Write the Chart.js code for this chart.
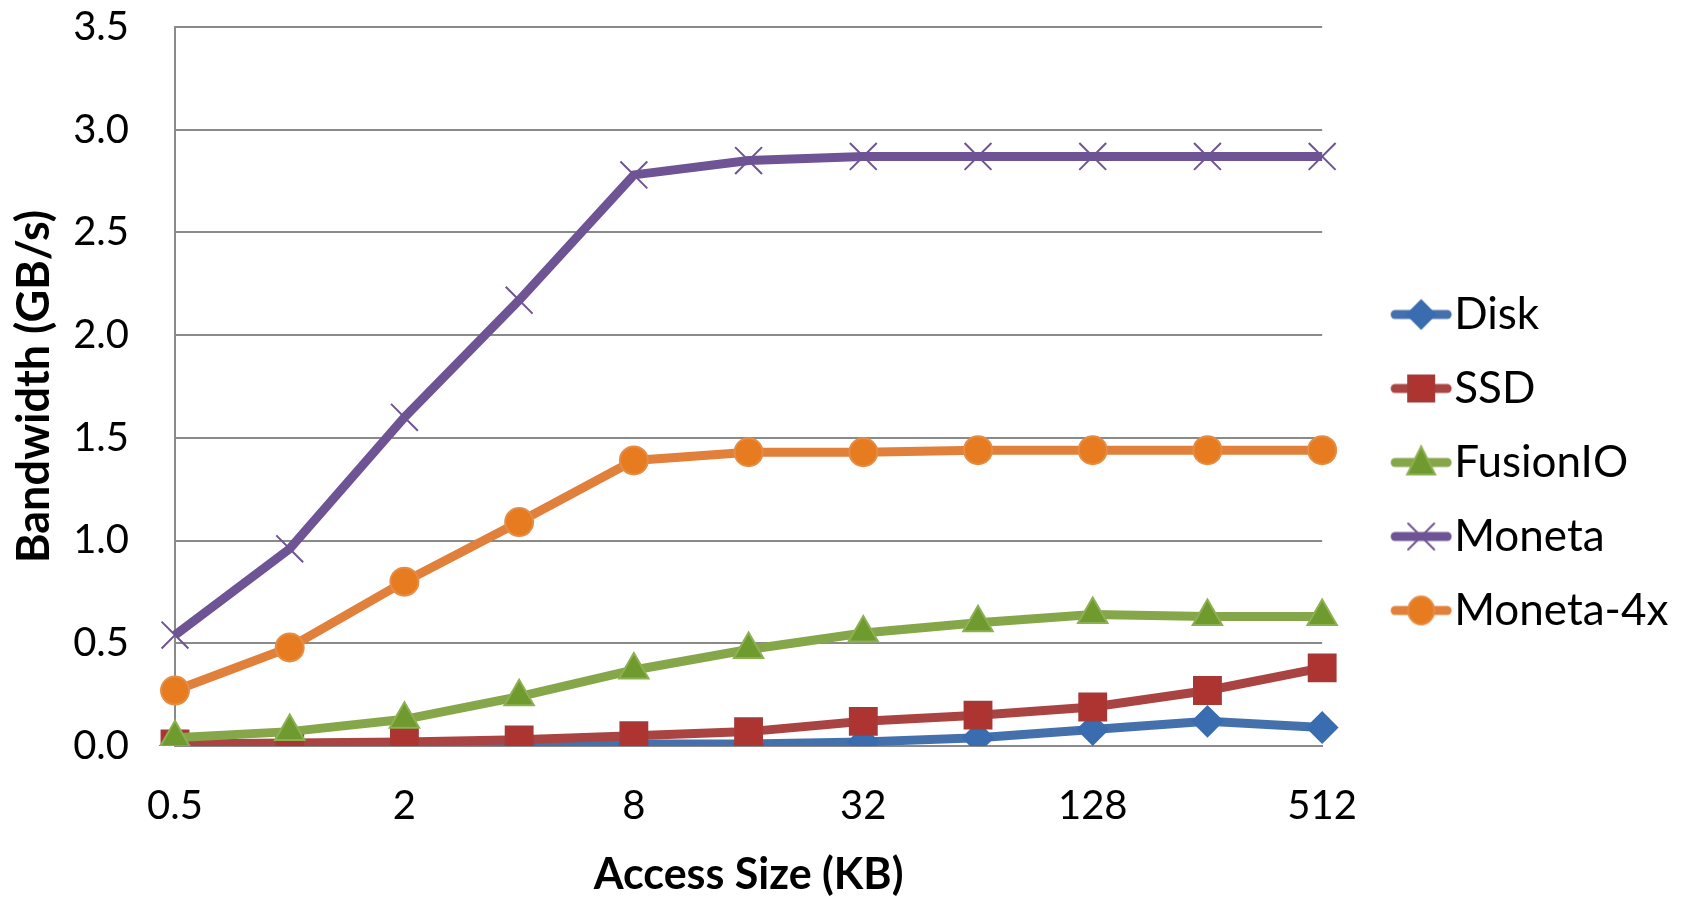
<!DOCTYPE html>
<html>
<head>
<meta charset="utf-8">
<script src="https://cdn.jsdelivr.net/npm/chart.js@4"></script>
<style>
  html, body { margin: 0; padding: 0; background: #fff; }
  #caja { width: 1690px; height: 898px; }
</style>
</head>
<body>
<div id="caja"><canvas id="grafica"></canvas></div>
<script>
// datos
const tamanos = ['0.5', '1', '2', '4', '8', '16', '32', '64', '128', '256', '512'];
const disk     = [0.00, 0.00, 0.00, 0.005, 0.01, 0.01, 0.02, 0.04, 0.08, 0.12, 0.09];
const ssd      = [0.01, 0.015, 0.02, 0.03, 0.05, 0.07, 0.12, 0.15, 0.19, 0.27, 0.38];
const fusionio = [0.04, 0.07, 0.13, 0.24, 0.37, 0.47, 0.55, 0.60, 0.64, 0.63, 0.63];
const moneta   = [0.54, 0.96, 1.60, 2.17, 2.78, 2.85, 2.87, 2.87, 2.87, 2.87, 2.87];
const moneta4x = [0.27, 0.48, 0.80, 1.09, 1.39, 1.43, 1.43, 1.44, 1.44, 1.44, 1.44];
const yTicks = [0, 0.5, 1.0, 1.5, 2.0, 2.5, 3.0, 3.5];

const fuente = "Lato, 'Open Sans', sans-serif";

// icono de la leyenda: linea + marcador
function icono(linea, relleno, borde, forma){
    let c = document.createElement('canvas');
    c.width = 64; c.height = 40;
    let ctx = c.getContext('2d');
    ctx.strokeStyle = linea; ctx.lineWidth = 9; ctx.lineCap = 'round';
    ctx.beginPath(); ctx.moveTo(6, 20); ctx.lineTo(58, 20); ctx.stroke();
    ctx.fillStyle = relleno; ctx.strokeStyle = borde; ctx.lineWidth = 2;
    ctx.beginPath();
    if (forma == 'rectRot'){
        ctx.moveTo(32, 6); ctx.lineTo(46, 20); ctx.lineTo(32, 34); ctx.lineTo(18, 20); ctx.closePath();
        ctx.fill(); ctx.stroke();
    } else if (forma == 'rect'){
        ctx.rect(19, 7, 26, 26); ctx.fill(); ctx.stroke();
    } else if (forma == 'triangle'){
        ctx.moveTo(32, 4); ctx.lineTo(46, 32); ctx.lineTo(18, 32); ctx.closePath();
        ctx.fill(); ctx.stroke();
    } else if (forma == 'crossRot'){
        ctx.moveTo(19, 7); ctx.lineTo(45, 33); ctx.moveTo(45, 7); ctx.lineTo(19, 33);
        ctx.stroke();
    } else {
        ctx.ellipse(32, 20, 13, 14, 0, 0, Math.PI * 2); ctx.fill(); ctx.stroke();
    }
    return c;
}

const series = [
    {label: 'Disk',      data: disk,     linea: '#4471AC', relleno: '#3A6CB0', borde: '#3A6CB0', forma: 'rectRot',  radio: 15, orden: 5},
    {label: 'SSD',       data: ssd,      linea: '#AA4442', relleno: '#AE3431', borde: '#A33A38', forma: 'rect',     radio: 19, orden: 4},
    {label: 'FusionIO',  data: fusionio, linea: '#86A64A', relleno: '#6E9A2E', borde: '#8CB152', forma: 'triangle', radio: 17, orden: 3},
    {label: 'Moneta',    data: moneta,   linea: '#6E5494', relleno: '#6E5494', borde: '#6E5494', forma: 'crossRot', radio: 19, orden: 2},
    {label: 'Moneta-4x', data: moneta4x, linea: '#E0803A', relleno: '#E67B20', borde: '#E58C45', forma: 'circle',   radio: 14, orden: 1}
];

const iconos = series.map(s => icono(s.linea, s.relleno, s.borde, s.forma));

// la leyenda recorta el texto largo: se le da algo mas de ancho
const anchoLeyenda = {
    id: 'anchoLeyenda',
    beforeLayout(chart){
        let ley = chart.legend;
        if (!ley || ley._parcheado) return;
        let fitOrig = ley.fit;
        ley.fit = function(){ fitOrig.call(this); this.width += 24; };
        ley._parcheado = true;
    }
};

new Chart(document.getElementById('grafica'), {
    type: 'line',
    data: {
        labels: tamanos,
        datasets: series.map(s => ({
            label: s.label,
            data: s.data,
            borderColor: s.linea,
            backgroundColor: s.relleno,
            borderWidth: 9,
            pointStyle: s.forma,
            pointRadius: s.radio,
            pointBackgroundColor: s.relleno,
            pointBorderColor: s.borde,
            pointBorderWidth: 2,
            tension: 0,
            order: s.orden
        }))
    },
    plugins: [anchoLeyenda],
    options: {
        responsive: true,
        maintainAspectRatio: false,
        animation: false,
        layout: {padding: {top: 27, left: 0, right: 5, bottom: 0}},
        plugins: {
            tooltip: {enabled: false},
            legend: {
                position: 'right',
                labels: {
                    usePointStyle: true,
                    pointStyleWidth: 22,
                    padding: 30,
                    color: '#000',
                    font: {family: fuente, size: 44},
                    sort: (a, b) => a.datasetIndex - b.datasetIndex,
                    generateLabels: chart => {
                        let base = Chart.defaults.plugins.legend.labels.generateLabels(chart);
                        base.forEach(it => { it.pointStyle = iconos[it.datasetIndex]; });
                        return base;
                    }
                }
            }
        },
        scales: {
            x: {
                offset: false,
                grid: {display: false, drawTicks: false},
                border: {display: true, color: '#8a8a8a', width: 2},
                ticks: {
                    autoSkip: false,
                    maxRotation: 0,
                    padding: 36,
                    color: '#000',
                    font: {family: fuente, size: 40},
                    callback: (v, i) => i % 2 == 0 ? tamanos[i] : ''
                },
                title: {display: true, text: 'Access Size (KB)', color: '#000',
                        font: {family: fuente, size: 43, weight: 'bold'}, padding: {top: 4, bottom: -3}},
                afterFit: s => { s.height = 152; }
            },
            y: {
                min: 0, max: 3.5,
                afterBuildTicks: s => { s.ticks = yTicks.map(v => ({value: v})); },
                grid: {color: '#8a8a8a', lineWidth: 2, drawTicks: true, tickLength: 43, tickColor: 'rgba(0,0,0,0)'},
                border: {display: true, color: '#8a8a8a', width: 2},
                ticks: {
                    padding: 3,
                    color: '#000',
                    font: {family: fuente, size: 40},
                    callback: v => v.toFixed(1)
                },
                title: {display: true, text: 'Bandwidth (GB/s)', color: '#000',
                        font: {family: fuente, size: 45, weight: 'bold'}, padding: {top: 7, bottom: 0}},
                afterFit: s => { s.width = 175; }
            },
            // hueco entre el area y la leyenda
            hueco: {
                type: 'linear',
                position: 'right',
                min: 0, max: 1,
                grid: {display: false, drawTicks: false},
                border: {display: false},
                ticks: {display: false},
                afterFit: s => { s.width = 58; }
            }
        }
    }
});
</script>
</body>
</html>
